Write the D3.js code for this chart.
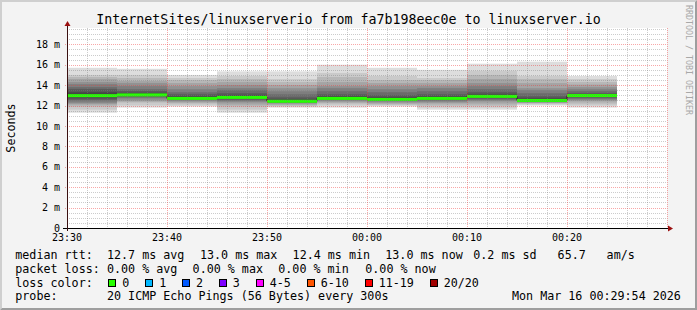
<!DOCTYPE html>
<html lang="en">
<head>
  <meta charset="UTF-8">
  <title>linuxserverio smokeping</title>
  <script src="https://cdn.jsdelivr.net/npm/d3@7"></script>
  <style>
    html, body { margin: 0; padding: 0; background: #f3f3f3; }
    svg { display: block; }
    text { font-family: "DejaVu Sans Mono", monospace; fill: #000; }
  </style>
</head>
<body>
  <div id="chart"></div>

  <script>
    // ---- data ----
    const title = "InternetSites/linuxserverio from fa7b198eec0e to linuxserver.io";
    const yTitle = "Seconds";
    const watermark = "RRDTOOL / TOBI OETIKER";

    // start of each 5 minute probe slot
    const slotStart = [
      "2026-03-15 23:30", "2026-03-15 23:35", "2026-03-15 23:40", "2026-03-15 23:45",
      "2026-03-15 23:50", "2026-03-15 23:55", "2026-03-16 00:00", "2026-03-16 00:05",
      "2026-03-16 00:10", "2026-03-16 00:15", "2026-03-16 00:20"
    ];
    const timeRange = ["2026-03-15 23:30", "2026-03-16 00:30"];

    // 20 sorted ping times (ms) per slot
    const pings = [
      [11.3, 11.6, 11.9, 12.1, 12.2, 12.3, 12.5, 12.6, 12.8, 12.9, 13.05, 13.3, 13.6, 13.8, 14.1, 14.3, 14.6, 14.8, 15.0, 15.7],
      [11.8, 12.0, 12.3, 12.4, 12.5, 12.7, 12.8, 12.9, 13.0, 13.05, 13.1, 13.2, 13.4, 13.6, 13.9, 14.2, 14.4, 14.7, 15.0, 15.6],
      [11.9, 12.0, 12.2, 12.3, 12.4, 12.5, 12.55, 12.6, 12.65, 12.7, 12.75, 12.9, 13.1, 13.3, 13.6, 13.9, 14.2, 14.5, 14.7, 15.0],
      [11.3, 11.6, 11.9, 12.1, 12.3, 12.4, 12.5, 12.6, 12.7, 12.75, 12.85, 13.0, 13.2, 13.5, 13.7, 14.0, 14.3, 14.6, 14.9, 15.35],
      [11.8, 11.9, 12.0, 12.1, 12.2, 12.25, 12.3, 12.35, 12.4, 12.4, 12.45, 12.6, 12.8, 13.1, 13.4, 13.7, 14.0, 14.3, 14.6, 15.35],
      [11.8, 12.0, 12.2, 12.3, 12.4, 12.5, 12.55, 12.6, 12.65, 12.7, 12.75, 12.9, 13.1, 13.4, 13.7, 13.9, 14.3, 14.8, 15.2, 16.0],
      [11.9, 12.0, 12.1, 12.2, 12.3, 12.4, 12.45, 12.5, 12.55, 12.6, 12.65, 12.8, 13.0, 13.3, 13.6, 13.9, 14.2, 14.5, 14.9, 15.7],
      [11.6, 11.8, 12.0, 12.2, 12.3, 12.4, 12.5, 12.55, 12.6, 12.65, 12.75, 12.9, 13.1, 13.4, 13.7, 13.9, 14.2, 14.5, 14.7, 15.5],
      [11.6, 11.8, 12.0, 12.2, 12.4, 12.5, 12.6, 12.7, 12.8, 12.85, 12.95, 13.1, 13.3, 13.6, 13.9, 14.2, 14.6, 15.0, 15.4, 16.1],
      [12.0, 12.1, 12.2, 12.25, 12.3, 12.35, 12.4, 12.45, 12.5, 12.5, 12.55, 12.7, 12.9, 13.2, 13.5, 13.7, 14.2, 14.6, 14.9, 16.3],
      [11.8, 12.0, 12.2, 12.4, 12.5, 12.6, 12.7, 12.8, 12.9, 12.95, 13.0, 13.1, 13.2, 13.4, 13.6, 13.8, 14.05, 14.3, 14.6, 14.9]
    ];
    const median = [12.97, 13.04, 12.70, 12.80, 12.42, 12.70, 12.60, 12.70, 12.90, 12.50, 12.98];
    const lossCount = [0, 0, 0, 0, 0, 0, 0, 0, 0, 0, 0];

    const yTicks = [0, 2, 4, 6, 8, 10, 12, 14, 16, 18];
    const yMax = 19.6;

    const lossLabels = ["0", "1", "2", "3", "4-5", "6-10", "11-19", "20/20"];
    const lossColors = ["#26ff00", "#00b8ff", "#0059ff", "#7e00ff", "#ff00ff", "#ff5500", "#ff0000", "#a10000"];
    const lossUpper = [0, 1, 2, 3, 5, 10, 19, 20];

    const rttLegend = ["median rtt:", "12.7 ms avg", "13.0 ms max", "12.4 ms min", "13.0 ms now", "0.2 ms sd", "65.7", "am/s"];
    const lossLegend = ["packet loss:", "0.00 % avg", "0.00 % max", "0.00 % min", "0.00 % now"];
    const probeLegend = ["probe:", "20 ICMP Echo Pings (56 Bytes) every 300s", "Mon Mar 16 00:29:54 2026"];

    // ---- layout ----
    const width = 697, height = 310;
    const plotL = 67, plotR = 667, plotT = 28, plotB = 228;

    const parse = d3.timeParse("%Y-%m-%d %H:%M");
    const times = slotStart.map(parse);

    const x = d3.scaleTime()
      .domain(timeRange.map(parse))
      .range([plotL, plotR]);
    const y = d3.scaleLinear()
      .domain([0, yMax])
      .range([plotB, plotT]);
    const px = v => Math.round(v) + 0.5;

    const svg = d3.select('#chart')
      .append('svg')
        .attr('width', width)
        .attr('height', height);

    // background + 3d frame
    svg.append('rect').attr('width', width).attr('height', height).attr('fill', '#f3f3f3');
    svg.append('path').attr('fill', '#cfcfcf')
      .attr('d', `M0,0H${width}L${width - 2},2H2V${height - 2}L0,${height}Z`);
    svg.append('path').attr('fill', '#9e9e9e')
      .attr('d', `M${width},0V${height}H0L2,${height - 2}H${width - 2}V2Z`);

    // canvas
    svg.append('rect')
      .attr('x', plotL).attr('y', plotT)
      .attr('width', plotR - plotL).attr('height', plotB - plotT)
      .attr('fill', '#ffffff');

    // smoke: layer k spans ping k .. ping (n-1-k), darker toward the middle
    const slotEnd = t => d3.timeMinute.offset(t, 5);
    const smoke = svg.append('g');
    pings.forEach((p, i) => {
      const n = p.length, half = n / 2;
      const x0 = x(times[i]), x1 = x(slotEnd(times[i]));
      for (let k = 0; k < half; k++) {
        const g = Math.floor(190 / half * (half - k - 1)) + 50;
        smoke.append('rect')
          .attr('x', x0).attr('width', x1 - x0)
          .attr('y', y(p[n - 1 - k]))
          .attr('height', y(p[k]) - y(p[n - 1 - k]))
          .attr('fill', d3.rgb(g, g, g));
      }
    });

    // median: thin black step line + loss coloured bar
    const stepPts = times.map((t, i) => [x(t), y(median[i])]);
    stepPts.push([x(slotEnd(times[times.length - 1])), y(median[median.length - 1])]);
    svg.append('path')
      .attr('d', d3.line().curve(d3.curveStepAfter)(stepPts))
      .attr('fill', 'none')
      .attr('stroke', '#202020')
      .attr('stroke-width', 1);

    const lossColor = c => lossColors[lossUpper.findIndex(u => c <= u)];
    svg.append('g')
      .selectAll('rect')
      .data(median)
      .join('rect')
        .attr('x', (d, i) => x(times[i]))
        .attr('width', (d, i) => x(slotEnd(times[i])) - x(times[i]))
        .attr('y', d => y(d) - 1.5)
        .attr('height', 3)
        .attr('fill', (d, i) => lossColor(lossCount[i]));

    // grid (drawn over the graph, like rrdtool)
    const grid = svg.append('g').attr('shape-rendering', 'crispEdges');
    const minorY = d3.range(0.5, yMax, 0.5).filter(v => v % 2 !== 0);
    grid.selectAll('.hmin').data(minorY).join('line')
      .attr('x1', plotL).attr('x2', plotR)
      .attr('y1', d => px(y(d))).attr('y2', d => px(y(d)))
      .attr('stroke', 'rgba(128,128,128,0.4)').attr('stroke-dasharray', '1,1');
    const minorX = x.ticks(d3.timeMinute.every(2)).filter(t => t.getMinutes() % 10 !== 0);
    grid.selectAll('.vmin').data(minorX).join('line')
      .attr('y1', plotT).attr('y2', plotB)
      .attr('x1', d => px(x(d))).attr('x2', d => px(x(d)))
      .attr('stroke', 'rgba(128,128,128,0.4)').attr('stroke-dasharray', '1,1');
    grid.selectAll('.hmaj').data(yTicks.filter(v => v > 0)).join('line')
      .attr('x1', plotL - 2).attr('x2', plotR)
      .attr('y1', d => px(y(d))).attr('y2', d => px(y(d)))
      .attr('stroke', 'rgba(240,60,60,0.45)').attr('stroke-dasharray', '1,1');
    const majorX = x.ticks(d3.timeMinute.every(10));
    grid.selectAll('.vmaj').data(majorX).join('line')
      .attr('y1', plotT).attr('y2', plotB + 2)
      .attr('x1', d => px(x(d))).attr('x2', d => px(x(d)))
      .attr('stroke', 'rgba(240,60,60,0.45)').attr('stroke-dasharray', '1,1');

    // axes
    const axis = svg.append('g').attr('shape-rendering', 'crispEdges');
    axis.append('line')
      .attr('x1', plotL - 4).attr('x2', plotR + 2)
      .attr('y1', plotB + 0.5).attr('y2', plotB + 0.5)
      .attr('stroke', '#000');
    axis.append('line')
      .attr('x1', plotL + 0.5).attr('x2', plotL + 0.5)
      .attr('y1', plotB + 3).attr('y2', plotT - 4)
      .attr('stroke', '#3a1010');
    svg.append('path').attr('fill', '#9b1010')
      .attr('d', `M${plotR + 6},${plotB + 0.5}L${plotR + 1},${plotB - 2.5}V${plotB + 3.5}Z`);
    svg.append('path').attr('fill', '#9b1010')
      .attr('d', `M${plotL + 0.5},${plotT - 7}L${plotL - 2.5},${plotT - 2}H${plotL + 3.5}Z`);

    // tick labels
    svg.append('g').selectAll('text').data(yTicks).join('text')
      .attr('x', 60).attr('y', d => y(d) + 3.7)
      .attr('text-anchor', 'end')
      .style('font-size', '10px')
      .text(d => d === 0 ? "0" : `${d} m`);
    svg.append('g').selectAll('text').data(majorX.filter(t => x(t) < plotR - 20)).join('text')
      .attr('x', d => x(d)).attr('y', 241.3)
      .attr('text-anchor', 'middle')
      .style('font-size', '10px')
      .text(d3.timeFormat("%H:%M"));

    // titles
    svg.append('text')
      .attr('x', width / 2).attr('y', 23.6)
      .attr('text-anchor', 'middle')
      .style('font-size', '13.3px')
      .text(title);
    svg.append('text')
      .attr('transform', `translate(15,${(plotT + plotB) / 2}) rotate(-90)`)
      .attr('text-anchor', 'middle')
      .style('font-size', '11.7px')
      .text(yTitle);
    svg.append('text')
      .attr('transform', `translate(686,5) rotate(90)`)
      .style('font-size', '8.3px')
      .style('fill', '#a8a8a8')
      .text(watermark);

    // legend
    const lg = svg.append('g').style('font-size', '11.7px').attr('xml:space', 'preserve');
    const rowText = (items, xs, yy) => items.forEach((s, i) =>
      lg.append('text').attr('x', xs[i]).attr('y', yy).text(s));
    rowText(rttLegend, [15.3, 107, 200, 292.6, 385.3, 473.3, 557.6, 606.6], 258.6);
    rowText(lossLegend, [15.3, 107, 192.6, 278.3, 365.3], 272.6);
    rowText(["loss color:"], [15.3], 286.6);
    rowText(probeLegend, [15.3, 107, 512], 300.3);

    let bx = 108.3;
    lossLabels.forEach((lab, i) => {
      lg.append('rect')
        .attr('x', Math.round(bx) + 0.5).attr('y', 279.5)
        .attr('width', 7).attr('height', 7)
        .attr('fill', lossColors[i])
        .attr('stroke', '#000');
      lg.append('text').attr('x', bx + 14).attr('y', 286.6).text(lab);
      bx += 29.8 + lab.length * 7.05;
    });
  </script>
</body>
</html>
